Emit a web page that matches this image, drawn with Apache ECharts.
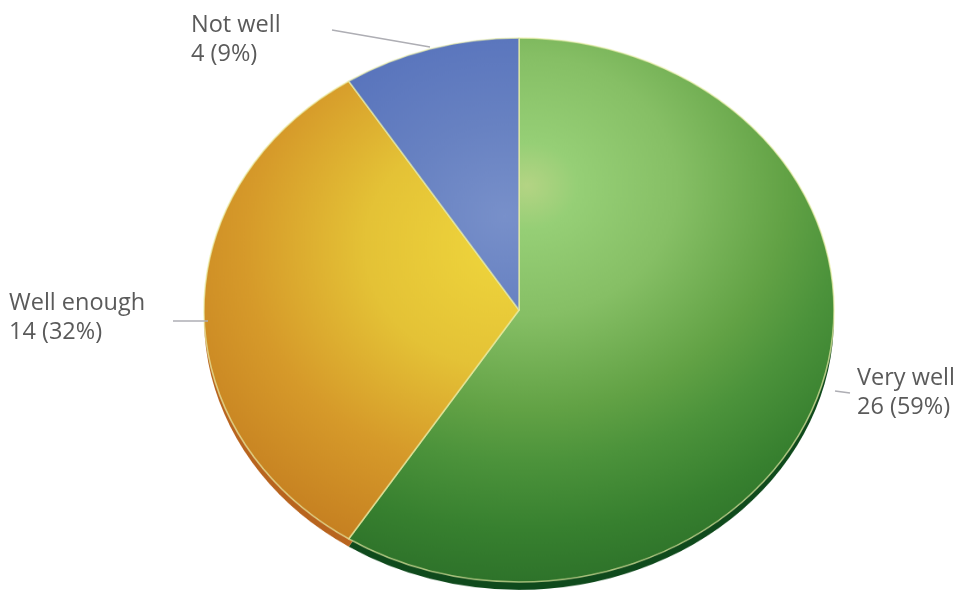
<!DOCTYPE html>
<html>
<head>
<meta charset="utf-8">
<script src="https://cdn.jsdelivr.net/npm/echarts@6/dist/echarts.min.js"></script>
<style>
html,body{margin:0;padding:0;width:960px;height:592px;overflow:hidden;background:#fff}
#wrap{position:relative;width:960px;height:592px;overflow:hidden}
#pie{position:absolute;left:0;top:0;width:960px;height:686px;transform-origin:0 0;transform:scaleY(0.8635)}
#labels{position:absolute;left:0;top:0;width:960px;height:592px}
</style>
</head>
<body>
<div id="wrap"><div id="pie"></div><div id="labels"></div></div>
<script>
const categories = ['Very well', 'Well enough', 'Not well'];
const values = [26, 14, 4];
const percents = [59, 32, 9];
const rimColors = ['#0f4a1c', '#b8641e', '#4a60a8'];
const gradients = [
  {x:527,y:215,r:500,stops:['#b4d484','#96cf76','#86bf65','#62a245','#4c933b','#37802f','#286a27'],at:[0,.1,.3,.52,.64,.8,1]},
  {x:505,y:285,r:400,stops:['#efd63c','#e4c236','#d69a2a','#c27a1f'],at:[0,.35,.65,1]},
  {x:505,y:250,r:260,stops:['#7890ca','#6882c2','#5470bb'],at:[0,.4,1]}
];
const labelBoxes = [[857,364],[9,289],[191,11]];
const leaderLines = [[[835,391],[850,393]],[[173,321],[208,321]],[[332,30],[430,47]]];

const fill = g => new echarts.graphic.RadialGradient(g.x, g.y, g.r,
  g.stops.map((c,i)=>({offset:g.at[i],color:c})), true);

const pie = echarts.init(document.getElementById('pie'), null, {renderer:'canvas'});
pie.setOption({
  animation:false,
  series:[
    {type:'pie',center:[519,368],radius:[0,315],startAngle:90,silent:true,
     label:{show:false},labelLine:{show:false},
     data:categories.map((n,i)=>({name:n,value:values[i],itemStyle:{color:rimColors[i]}}))},
    {type:'pie',center:[519,359],radius:[0,315],startAngle:90,silent:true,
     label:{show:false},labelLine:{show:false},
     itemStyle:{borderColor:'rgba(235,240,170,0.7)',borderWidth:1.6},
     data:categories.map((n,i)=>({name:n,value:values[i],itemStyle:{color:fill(gradients[i])}}))}
  ]
});

const overlay = echarts.init(document.getElementById('labels'), null, {renderer:'canvas'});
overlay.setOption({
  animation:false,
  graphic:categories.flatMap((n,i)=>[
    {type:'polyline',silent:true,shape:{points:leaderLines[i]},style:{stroke:'#aeaeb4',lineWidth:1.6,fill:null}},
    {type:'text',silent:true,x:labelBoxes[i][0],y:labelBoxes[i][1],
     style:{text:n+'\n'+values[i]+' ('+percents[i]+'%)',fontFamily:'"Open Sans", sans-serif',fontSize:23.5,lineHeight:29,fill:'#5a5a5a'}}
  ])
});
</script>
</body>
</html>
